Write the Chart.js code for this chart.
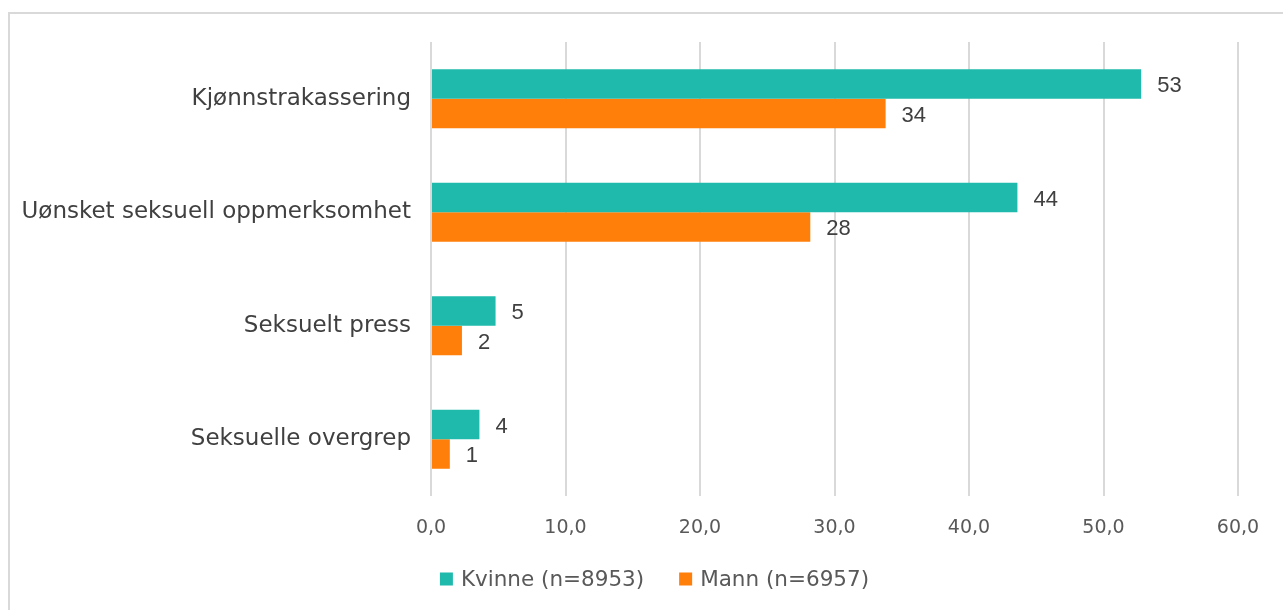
<!DOCTYPE html>
<html>
<head>
<meta charset="utf-8">
<script src="https://cdn.jsdelivr.net/npm/chart.js@4.4.0/dist/chart.umd.min.js"></script>
<style>
  html, body { margin: 0; padding: 0; background: #fff; width: 1283px; height: 610px; overflow: hidden; }
  #frame { position: absolute; left: 8px; top: 12px; width: 1400px; height: 800px; border: 2px solid #d9d9d9; box-sizing: border-box; }
  #wrap { position: absolute; left: 9px; top: 13px; width: 1291px; height: 597px; }
</style>
</head>
<body>
<div id="frame"></div>
<div id="wrap"><canvas id="c"></canvas></div>
<script>
const categories = ["Kjønnstrakassering", "Uønsket seksuell oppmerksomhet", "Seksuelt press", "Seksuelle overgrep"];
const kvinneValues = [52.8, 43.6, 4.8, 3.6];
const mannValues = [33.8, 28.2, 2.3, 1.4];
const seriesNames = ["Kvinne (n=8953)", "Mann (n=6957)"];
const seriesColors = ['#20BAAD', '#FF7F0A'];
const xTicks = [0, 10, 20, 30, 40, 50, 60];

const FONT = "'DejaVu Sans', sans-serif";

const dataLabels = {
  id: 'dataLabels',
  afterDatasetsDraw(chart) {
    const ctx = chart.ctx;
    ctx.save();
    ctx.font = "22px 'Liberation Sans', Arial, sans-serif";
    ctx.fillStyle = '#404040';
    ctx.textAlign = 'left';
    ctx.textBaseline = 'middle';
    chart.data.datasets.forEach((ds, i) => {
      const meta = chart.getDatasetMeta(i);
      meta.data.forEach((el, j) => {
        ctx.fillText(String(Math.round(ds.data[j])), el.x + 16, el.y + 2);
      });
    });
    ctx.restore();
  }
};

const bottomLegend = {
  id: 'bottomLegend',
  afterDraw(chart) {
    const ctx = chart.ctx;
    ctx.save();
    ctx.font = "21.5px " + FONT;
    ctx.textBaseline = 'middle';
    ctx.textAlign = 'left';
    const box = 13, boxGap = 8, itemGap = 35;
    const items = chart.data.datasets.map(ds => ({ text: ds.label, color: ds.backgroundColor, w: ctx.measureText(ds.label).width }));
    let total = 0;
    items.forEach((it, i) => { total += box + boxGap + it.w + (i < items.length - 1 ? itemGap : 0); });
    let x = chart.width / 2 - total / 2;
    const yc = 567;
    items.forEach(it => {
      ctx.fillStyle = it.color;
      ctx.fillRect(x, yc - box / 2 - 1, box, box);
      x += box + boxGap;
      ctx.fillStyle = '#595959';
      ctx.fillText(it.text, x, yc);
      x += it.w + itemGap;
    });
    ctx.restore();
  }
};

new Chart(document.getElementById('c'), {
  type: 'bar',
  data: {
    labels: categories,
    datasets: [
      { label: seriesNames[0], data: kvinneValues, backgroundColor: seriesColors[0], borderWidth: 0 },
      { label: seriesNames[1], data: mannValues, backgroundColor: seriesColors[1], borderWidth: 0 }
    ]
  },
  options: {
    indexAxis: 'y',
    responsive: true,
    maintainAspectRatio: false,
    animation: false,
    events: [],
    layout: { padding: { top: 29, right: 62, bottom: 0, left: 0 } },
    datasets: { bar: { categoryPercentage: 0.52, barPercentage: 1.0 } },
    scales: {
      x: {
        min: 0, max: 60,
        afterBuildTicks(axis) { axis.ticks = xTicks.map(v => ({ value: v })); },
        afterFit(axis) { axis.height = 114; axis.paddingLeft = 0; axis.paddingRight = 0; },
        grid: { color: '#d9d9d9', lineWidth: 2, drawTicks: false },
        border: { display: false },
        ticks: {
          padding: 21,
          color: '#595959',
          font: { family: FONT, size: 19 },
          callback: v => v.toFixed(1).replace('.', ',')
        }
      },
      y: {
        afterFit(axis) { axis.width = 422; axis.paddingTop = 0; axis.paddingBottom = 0; },
        grid: { display: false, drawTicks: false },
        border: { display: false },
        ticks: {
          padding: 20,
          color: '#404040',
          font: { family: FONT, size: 23 }
        }
      }
    },
    plugins: {
      legend: { display: false },
      tooltip: { enabled: false }
    }
  },
  plugins: [dataLabels, bottomLegend]
});
</script>
</body>
</html>
